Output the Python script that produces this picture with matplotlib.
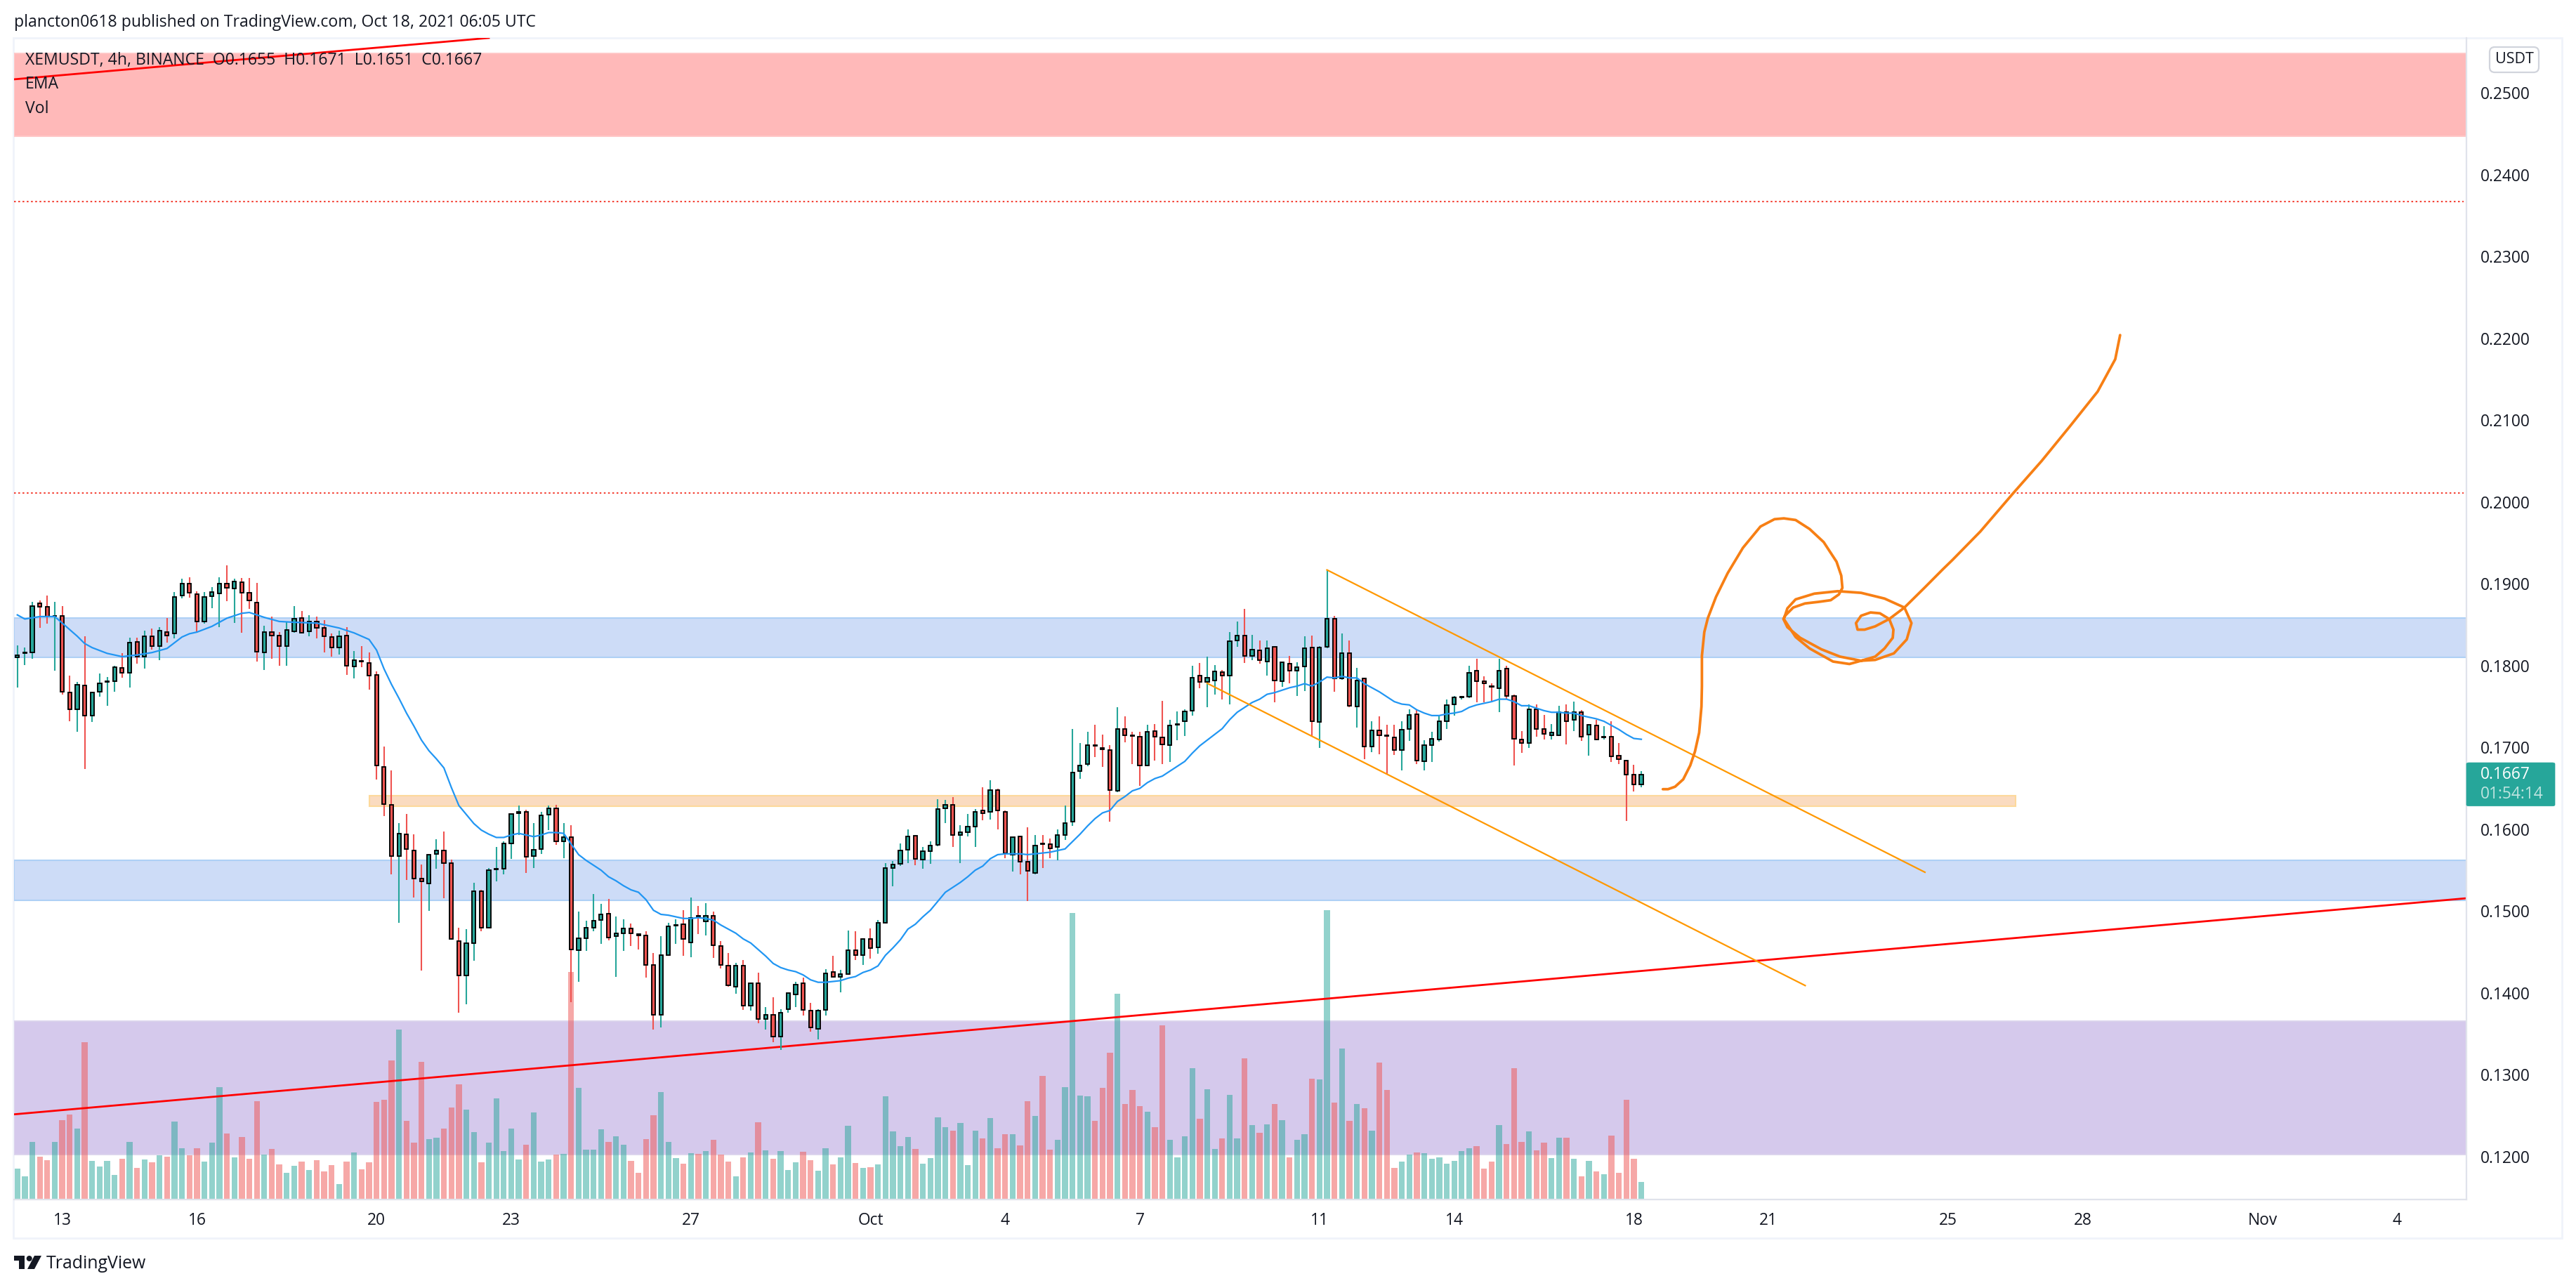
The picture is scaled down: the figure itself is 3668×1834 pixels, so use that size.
import matplotlib
matplotlib.use('Agg')
import matplotlib.pyplot as plt
from matplotlib.patches import Rectangle, FancyBboxPatch, Polygon, Circle

plt.rcParams['font.family'] = ['Open Sans', 'DejaVu Sans']

# 4h candles, Sep 12 00:00 to Oct 18 04:00
opens = [.1810, .1815, .1816, .1876, .1872, .1861, .1861, .1767, .1747, .1776,
         .1739, .1768, .1780, .1781, .1797, .1791, .1829, .1811, .1836, .1824,
         .1841, .1839, .1886, .1900, .1887, .1854, .1885, .1888, .1900, .1894,
         .1902, .1889, .1877, .1816, .1841, .1837, .1824, .1842, .1858, .1842,
         .1854, .1846, .1835, .1822, .1837, .1799, .1806, .1803, .1789, .1676,
         .1630, .1567, .1594, .1574, .1540, .1534, .1570, .1574, .1559, .1463,
         .1421, .1461, .1524, .1480, .1551, .1552, .1583, .1620, .1621, .1567,
         .1576, .1618, .1626, .1585, .1590, .1452, .1467, .1480, .1489, .1497,
         .1469, .1473, .1479, .1472, .1470, .1434, .1373, .1446, .1482, .1484,
         .1462, .1494, .1487, .1494, .1457, .1433, .1408, .1433, .1384, .1412,
         .1368, .1373, .1347, .1380, .1398, .1412, .1378, .1356, .1379, .1426,
         .1420, .1423, .1452, .1446, .1466, .1456, .1486, .1553, .1558, .1575,
         .1592, .1563, .1573, .1581, .1626, .1630, .1593, .1596, .1603, .1623,
         .1621, .1648, .1621, .1569, .1591, .1560, .1547, .1583, .1582, .1578,
         .1593, .1609, .1671, .1680, .1703, .1699, .1697, .1647, .1723, .1715,
         .1713, .1678, .1720, .1712, .1703, .1728, .1732, .1745, .1788, .1780,
         .1782, .1792, .1788, .1831, .1837, .1812, .1819, .1805, .1823, .1781,
         .1802, .1794, .1799, .1822, .1731, .1823, .1857, .1784, .1815, .1750,
         .1784, .1701, .1721, .1715, .1712, .1697, .1723, .1741, .1683, .1703,
         .1710, .1732, .1753, .1761, .1762, .1794, .1781, .1775, .1772, .1796,
         .1763, .1710, .1705, .1747, .1723, .1715, .1715, .1743, .1734, .1743,
         .1716, .1727, .1712, .1713, .1690, .1684, .1667, .1655]
closes = [.1813, .1816, .1873, .1872, .1860, .1861, .1768, .1747, .1777, .1739,
          .1767, .1778, .1781, .1798, .1791, .1828, .1811, .1836, .1824, .1843,
          .1837, .1884, .1900, .1889, .1854, .1884, .1890, .1900, .1895, .1903,
          .1889, .1880, .1817, .1841, .1837, .1824, .1844, .1857, .1840, .1854,
          .1846, .1836, .1822, .1836, .1800, .1807, .1805, .1788, .1678, .1631,
          .1567, .1595, .1576, .1540, .1536, .1569, .1574, .1559, .1466, .1421,
          .1461, .1524, .1480, .1550, .1552, .1583, .1619, .1621, .1566, .1575,
          .1617, .1626, .1585, .1590, .1453, .1467, .1480, .1488, .1496, .1468,
          .1473, .1479, .1473, .1470, .1434, .1373, .1446, .1481, .1483, .1466,
          .1492, .1493, .1494, .1458, .1434, .1409, .1433, .1384, .1412, .1368,
          .1373, .1347, .1376, .1400, .1410, .1379, .1358, .1378, .1424, .1420,
          .1423, .1452, .1446, .1466, .1455, .1486, .1553, .1557, .1574, .1591,
          .1564, .1573, .1580, .1625, .1630, .1593, .1596, .1603, .1621, .1620,
          .1648, .1623, .1571, .1590, .1560, .1549, .1580, .1582, .1577, .1593,
          .1608, .1669, .1678, .1703, .1702, .1698, .1648, .1723, .1715, .1714,
          .1678, .1719, .1713, .1704, .1727, .1729, .1744, .1785, .1780, .1785,
          .1793, .1788, .1830, .1837, .1812, .1820, .1807, .1821, .1782, .1804,
          .1794, .1798, .1821, .1732, .1822, .1857, .1784, .1815, .1751, .1782,
          .1701, .1721, .1715, .1714, .1697, .1722, .1740, .1684, .1703, .1711,
          .1732, .1752, .1761, .1762, .1791, .1781, .1778, .1774, .1794, .1763,
          .1711, .1705, .1747, .1723, .1717, .1718, .1743, .1732, .1743, .1713,
          .1728, .1710, .1713, .1689, .1686, .1667, .1655, .1667]
highs = [.1825, .1822, .1878, .1880, .1886, .1878, .1873, .1788, .1780, .1836,
         .1768, .1790, .1786, .1800, .1815, .1834, .1834, .1843, .1845, .1847,
         .1858, .1890, .1906, .1908, .1891, .1890, .1896, .1908, .1923, .1906,
         .1907, .1907, .1901, .1849, .1860, .1841, .1854, .1873, .1867, .1862,
         .1860, .1856, .1839, .1843, .1847, .1818, .1824, .1816, .1793, .1701,
         .1672, .1608, .1619, .1594, .1557, .1569, .1588, .1597, .1563, .1480,
         .1478, .1535, .1526, .1553, .1578, .1585, .1619, .1629, .1624, .1608,
         .1621, .1629, .1630, .1608, .1605, .1499, .1488, .1521, .1509, .1515,
         .1493, .1490, .1485, .1472, .1475, .1449, .1469, .1486, .1490, .1501,
         .1517, .1506, .1510, .1499, .1463, .1449, .1437, .1440, .1413, .1425,
         .1383, .1395, .1380, .1400, .1414, .1419, .1388, .1380, .1429, .1445,
         .1428, .1476, .1475, .1467, .1479, .1489, .1559, .1561, .1583, .1600,
         .1592, .1578, .1585, .1637, .1636, .1639, .1605, .1619, .1625, .1651,
         .1660, .1650, .1623, .1590, .1591, .1602, .1593, .1593, .1589, .1600,
         .1629, .1723, .1705, .1719, .1728, .1716, .1703, .1749, .1738, .1719,
         .1719, .1728, .1729, .1757, .1734, .1744, .1747, .1800, .1803, .1811,
         .1801, .1795, .1841, .1854, .1869, .1838, .1831, .1831, .1823, .1805,
         .1812, .1804, .1836, .1837, .1824, .1917, .1861, .1839, .1831, .1797,
         .1785, .1732, .1738, .1728, .1728, .1732, .1747, .1746, .1709, .1719,
         .1739, .1759, .1763, .1763, .1800, .1808, .1787, .1778, .1808, .1800,
         .1765, .1720, .1753, .1753, .1740, .1729, .1751, .1753, .1756, .1746,
         .1729, .1734, .1726, .1732, .1705, .1684, .1679, .1671]
lows = [.1773, .1801, .1808, .1846, .1851, .1794, .1765, .1732, .1719, .1674,
        .1731, .1762, .1751, .1768, .1785, .1773, .1802, .1796, .1820, .1807,
        .1828, .1833, .1882, .1883, .1840, .1851, .1870, .1847, .1879, .1852,
        .1840, .1869, .1805, .1795, .1808, .1800, .1800, .1840, .1839, .1836,
        .1833, .1816, .1811, .1814, .1789, .1784, .1798, .1771, .1661, .1616,
        .1545, .1486, .1538, .1517, .1427, .1500, .1552, .1516, .1465, .1376,
        .1386, .1439, .1475, .1480, .1536, .1545, .1564, .1593, .1547, .1553,
        .1570, .1599, .1581, .1565, .1389, .1414, .1451, .1475, .1460, .1464,
        .1420, .1451, .1457, .1453, .1419, .1355, .1358, .1446, .1460, .1445,
        .1444, .1472, .1470, .1443, .1430, .1408, .1399, .1379, .1378, .1363,
        .1355, .1340, .1330, .1376, .1383, .1372, .1353, .1343, .1372, .1419,
        .1401, .1422, .1440, .1434, .1442, .1448, .1485, .1530, .1555, .1559,
        .1556, .1552, .1558, .1579, .1608, .1578, .1559, .1591, .1578, .1611,
        .1612, .1600, .1565, .1548, .1545, .1512, .1545, .1553, .1565, .1562,
        .1587, .1604, .1662, .1677, .1688, .1676, .1609, .1645, .1706, .1680,
        .1653, .1677, .1684, .1680, .1682, .1709, .1714, .1739, .1772, .1749,
        .1765, .1759, .1753, .1823, .1803, .1807, .1802, .1788, .1755, .1774,
        .1778, .1763, .1769, .1713, .1699, .1821, .1768, .1783, .1749, .1724,
        .1686, .1694, .1692, .1667, .1691, .1672, .1708, .1680, .1672, .1682,
        .1707, .1723, .1739, .1759, .1760, .1755, .1755, .1757, .1743, .1759,
        .1678, .1693, .1699, .1713, .1710, .1710, .1714, .1704, .1720, .1708,
        .1690, .1709, .1710, .1682, .1680, .1610, .1646, .1651]
volumes = [44, 33, 82, 61, 56, 82, 113, 121, 101, 224,
           55, 47, 55, 35, 58, 82, 45, 57, 53, 63,
           61, 111, 73, 63, 73, 54, 81, 160, 94, 60,
           89, 58, 140, 64, 72, 50, 38, 48, 54, 42,
           56, 40, 49, 22, 54, 67, 43, 53, 139, 142,
           198, 242, 112, 81, 196, 86, 88, 101, 131, 164,
           128, 96, 53, 81, 144, 69, 101, 57, 78, 124,
           54, 57, 64, 65, 324, 159, 71, 71, 100, 82,
           90, 78, 55, 38, 86, 120, 153, 82, 59, 51,
           66, 65, 69, 85, 64, 54, 33, 60, 67, 110,
           70, 58, 69, 42, 53, 68, 56, 41, 73, 50,
           60, 105, 52, 45, 46, 50, 147, 97, 76, 89,
           72, 51, 59, 117, 103, 98, 109, 49, 98, 87,
           116, 73, 93, 93, 77, 140, 119, 176, 71, 85,
           160, 408, 148, 147, 112, 159, 209, 293, 136, 156,
           133, 125, 103, 248, 85, 60, 90, 187, 115, 157,
           72, 87, 149, 87, 201, 106, 95, 107, 136, 113,
           60, 85, 93, 172, 171, 412, 138, 215, 112, 136,
           130, 98, 195, 156, 45, 54, 64, 67, 66, 58,
           60, 51, 55, 69, 73, 76, 44, 54, 106, 79,
           187, 82, 97, 70, 81, 59, 88, 88, 58, 33,
           55, 40, 36, 91, 38, 142, 58, 25]

ema_idx = [0, 1, 3, 5, 7, 8, 9, 10, 12, 14, 16, 18, 20, 22, 23, 24, 26, 28, 30, 31, 33, 35, 37, 40, 43, 45, 47,
           48, 49, 50, 51, 52, 53, 54, 55, 56, 57, 58, 59, 60, 61, 62, 63, 64, 65, 66, 67, 68, 69, 70, 71, 72, 73,
           74, 75, 76, 77, 78, 79, 80, 81] + list(range(82, 218))
ema_vals = [.1862, .1857, .1860, .1860, .1844, .1836, .1827, .1822, .1815, .1811, .1813, .1816, .1821, .1835, .1839,
            .1841, .1848, .1858, .1864, .1865, .1859, .1854, .1853, .1852, .1846, .1840, .1832,
            .1819, .1796, .1777, .1760, .1742, .1726, .1709, .1696, .1686, .1675, .1651, .1629, .1618, .1607, .1599,
            .1594, .1590, .1590, .1593, .1595, .1593, .1591, .1593, .1596, .1596, .1595,
            .1582, .1569, .1562, .1556, .1550, .1542, .1537, .1531,
            .1526, .1523, .1514, .1501, .1496, .1495, .1493, .1491, .1491, .1492, .1491, .1489, .1483, .1478, .1473,
            .1466, .1461, .1453, .1445, .1436, .1431, .1428, .1426, .1422, .1416, .1413, .1413, .1414, .1415, .1418,
            .1420, .1425, .1428, .1433, .1446, .1455, .1465, .1478, .1484, .1493, .1501, .1512, .1523, .1529, .1535,
            .1542, .1550, .1555, .1564, .1569, .1570, .1570, .1570, .1569, .1570, .1571, .1572, .1574, .1576, .1585,
            .1594, .1604, .1613, .1620, .1623, .1634, .1640, .1647, .1650, .1657, .1662, .1665, .1671, .1677, .1683,
            .1693, .1702, .1709, .1716, .1723, .1734, .1743, .1749, .1755, .1759, .1765, .1767, .1770, .1773, .1775,
            .1778, .1775, .1780, .1786, .1785, .1787, .1785, .1785, .1778, .1773, .1768, .1762, .1756, .1753, .1752,
            .1746, .1742, .1739, .1739, .1741, .1742, .1744, .1749, .1752, .1754, .1756, .1759, .1759, .1756, .1751,
            .1751, .1748, .1745, .1743, .1743, .1742, .1742, .1739, .1737, .1735, .1732, .1727, .1722, .1716, .1711,
            .1710]

tick_idx = [6, 24, 48, 66, 90, 114, 132, 150, 174, 192, 216, 234, 258, 276, 300, 318]
tick_labels = ['13', '16', '20', '23', '27', 'Oct', '4', '7', '11', '14', '18', '21', '25', '28', 'Nov', '4']
price_ticks = [.12, .13, .14, .15, .16, .17, .18, .19, .20, .21, .22, .23, .24, .25]

# zones and drawings on the chart
red_zone = (.2447, .2548)
blue_zones = [(.1810, .1858), (.1513, .1562)]
purple_zone = (.12024, .13655)
orange_zone = (47, 267, .1628, .1641)
dotted_levels = [.2367, .2011]
trend_a = ([-0.44, 327.26], [.12516, .15157])
trend_b = ([-0.44, 63], [.25166, .25672])
channel_up = ([175, 254.9], [.1917, .15475])
channel_down = ([159, 238.9], [.17784, .1409])
stroke_idx = [219.88, 220.57, 221.51, 222.6, 223.54, 224.17, 224.73, 225.04, 225.1, 225.1, 225.42, 225.89, 226.98,
              228.54, 230.58, 232.92, 234.8, 236.05, 237.62, 239.49, 241.37, 243.09, 243.72, 243.87, 243.4, 242.31,
              240.74, 238.87, 237.3, 236.21, 235.99, 236.52, 238.24, 241.06, 243.56, 246.37, 248.25, 250.75, 252.47,
              253.1, 252.16, 249.5, 246.37, 243.25, 240.12, 237.62, 236.52, 236.05, 237.62, 239.49, 242.62, 244.81,
              246.37, 248.25, 249.5, 250.6, 250.69, 250.13, 248.88, 247.63, 246.37, 245.69, 245.9, 246.84, 248.25,
              250.13, 252.16, 254.82, 257.32, 258.56, 262.31, 266.72, 270.48, 274.23, 277.98, 280.33, 280.98]
stroke_price = [.1649, .1649, .1652, .1661, .1678, .1695, .1718, .1750, .1775, .1812, .1841, .1858, .1884,
                .1913, .1944, .1970, .1979, .1980, .1978, .1967, .1951, .1927, .1910, .1895, .1887, .1880,
                .1878, .1876, .1871, .1861, .1857, .1847, .1834, .1820, .1811, .1806, .1807, .1815, .1832,
                .1852, .1871, .1882, .1889, .1891, .1888, .1881, .1870, .1857, .1835, .1821, .1805, .1802,
                .1806, .1811, .1821, .1834, .1844, .1857, .1864, .1865, .1861, .1852, .1844, .1844, .1848,
                .1857, .1871, .1895, .1918, .1929, .1964, .2011, .2050, .2092, .2135, .21745, .2204]

W, H = 3668, 1834
GREEN, RED_C = '#26a69a', '#ef5350'
TEXT = '#131722'
x_lim = (-0.44, 327.26)
y_lim = (.11475, .25672)


def fx(x):
    return x / W


def fy(y):
    return 1 - y / H


fig = plt.figure(figsize=(W / 100, H / 100), dpi=100, facecolor='white')
pos = [fx(20), fy(1708), (3512 - 20) / W, (1708 - 54) / H]

# outer frame
fig.add_artist(Rectangle((fx(19), fy(1763)), (3648 - 19) / W, (1763 - 54) / H, transform=fig.transFigure,
                         fill=False, edgecolor='#f0f3fa', lw=2))

ax_zone = fig.add_axes(pos, zorder=1)
ax_vol = fig.add_axes(pos, zorder=2)
ax = fig.add_axes(pos, zorder=3)

ax_zone.set_xlim(x_lim)
ax_zone.set_ylim(y_lim)
ax_zone.axis('off')
ax_zone.axhspan(red_zone[0], red_zone[1], facecolor='#ffb9b9', edgecolor='#ffc8c8', lw=1.4)
for lo, hi in blue_zones:
    ax_zone.axhspan(lo, hi, facecolor='#cddcf7', edgecolor='#aed0f5', lw=1.5)
ax_zone.axhspan(purple_zone[0], purple_zone[1], facecolor='#d5c9ec', edgecolor='#dcd4ed', lw=1.4)
ax_zone.add_patch(Rectangle((orange_zone[0], orange_zone[2]), orange_zone[1] - orange_zone[0],
                            orange_zone[3] - orange_zone[2], facecolor='#fadbc0', edgecolor='#fdd99b', lw=1.5))

idx = list(range(len(opens)))
colors = [GREEN if c >= o else RED_C for o, c in zip(opens, closes)]

ax_vol.set_xlim(x_lim)
ax_vol.set_ylim(0, 1654)
ax_vol.axis('off')
ax_vol.bar(idx, volumes, width=0.78, color=colors, alpha=0.5, linewidth=0)

ax.patch.set_alpha(0)
ax.set_xlim(x_lim)
ax.set_ylim(y_lim)

ax.plot(trend_a[0], trend_a[1], color='#ff0000', lw=2.0, zorder=2)
ax.plot(trend_b[0], trend_b[1], color='#ff0000', lw=2.0, zorder=2)
for level in dotted_levels:
    ax.plot([x_lim[0], 326.9], [level, level], color='#f44336', lw=1.5, ls=(0, (1.2, 1.7)), zorder=2)

ax.vlines(idx, lows, highs, colors=colors, lw=1.5, zorder=3)
body_low = [min(o, c) for o, c in zip(opens, closes)]
body_h = [abs(o - c) for o, c in zip(opens, closes)]
ax.bar(idx, body_h, bottom=body_low, width=0.49, color=colors, edgecolor='black', linewidth=1.35, zorder=4)

ax.plot(ema_idx, ema_vals, color='#2196f3', lw=1.6, zorder=5)
ax.plot(channel_up[0], channel_up[1], color='#ff9800', lw=1.6, zorder=6)
ax.plot(channel_down[0], channel_down[1], color='#ff9800', lw=1.6, zorder=6)
ax.plot(stroke_idx, stroke_price, color='#f77f14', lw=2.7, zorder=7, solid_joinstyle='round', solid_capstyle='round')

ax.yaxis.tick_right()
ax.set_yticks(price_ticks, ['%.4f' % p for p in price_ticks])
ax.set_xticks(tick_idx, tick_labels)
ax.tick_params(axis='y', length=0, pad=14, labelsize=16.4, labelcolor=TEXT)
ax.tick_params(axis='x', length=0, pad=13, labelsize=16.4, labelcolor=TEXT)
for side in ['top', 'left']:
    ax.spines[side].set_visible(False)
for side in ['right', 'bottom']:
    ax.spines[side].set_color('#e0e3eb')
    ax.spines[side].set_linewidth(1.6)

# text around the pane
fig.text(fx(20), fy(32), 'plancton0618 published on TradingView.com, Oct 18, 2021 06:05 UTC', fontsize=16.6,
         color=TEXT, va='center', ha='left')
legend_ax = [('XEMUSDT, 4h, BINANCE  O0.1655  H0.1671  L0.1651  C0.1667', 86), ('EMA', 120), ('Vol', 155)]
for txt, y in legend_ax:
    fig.text(fx(36), fy(y), txt, fontsize=16.6, color=TEXT, va='center', ha='left', zorder=10)

# last price tag
fig.add_artist(FancyBboxPatch((fx(3512), fy(1147.7)), (3638 - 3512) / W, (1147.7 - 1086) / H,
                              boxstyle='round,pad=0,rounding_size=0.001', transform=fig.transFigure,
                              facecolor=GREEN, edgecolor=GREEN, lw=0.5, zorder=11))
fig.text(fx(3532), fy(1103), '0.1667', fontsize=16.4, color='white', va='center', ha='left', zorder=12)
fig.text(fx(3532), fy(1131), '01:54:14', fontsize=16.4, color='#bfe4e0', va='center', ha='left', zorder=12)

# currency badge
fig.add_artist(FancyBboxPatch((fx(3545), fy(103)), 70 / W, 36 / H, boxstyle='round,pad=0,rounding_size=0.002',
                              transform=fig.transFigure, facecolor='white', edgecolor='#d1d4dc', lw=1.6, zorder=11,
                              mutation_aspect=2))
fig.text(fx(3580), fy(84), 'USDT', fontsize=15.5, color=TEXT, va='center', ha='center', zorder=12)

# logo and footer
fig.add_artist(Polygon([(fx(20), fy(1788)), (fx(35), fy(1788)), (fx(35), fy(1807)), (fx(27), fy(1807)),
                        (fx(27), fy(1795)), (fx(20), fy(1795))], transform=fig.transFigure, facecolor=TEXT, lw=0))
fig.add_artist(Polygon([(fx(49), fy(1788)), (fx(59), fy(1788)), (fx(49), fy(1807)), (fx(39), fy(1807))],
                       transform=fig.transFigure, facecolor=TEXT, lw=0))
fig.add_artist(Circle((41.7, H - 1792), 4, transform=None, facecolor=TEXT, lw=0))
fig.text(fx(66), fy(1799), 'TradingView', fontsize=17.9, color=TEXT, va='center', ha='left')

fig.savefig('out.png', dpi=100)
